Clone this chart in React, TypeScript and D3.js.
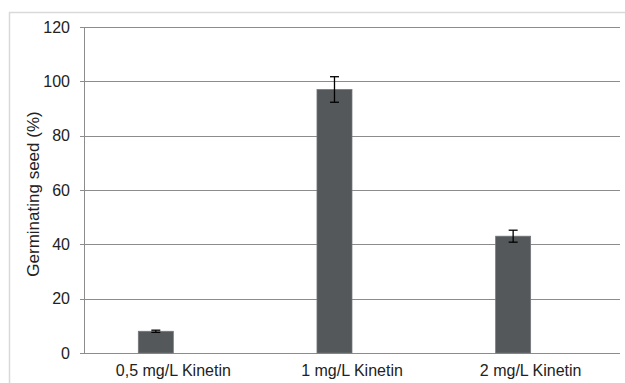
import React from "react";
import * as d3 from "d3";

// data
const categories = ["0,5 mg/L Kinetin", "1 mg/L Kinetin", "2 mg/L Kinetin"];
const germination = [8, 97, 43];
const errors = [0.4, 4.7, 2.2];
const yTicks = [0, 20, 40, 60, 80, 100, 120];

const size = {
  width: 625,
  height: 383,
  left: 84,
  right: 620,
  top: 27,
  bottom: 353,
};

const font = "'Liberation Sans', Arial, sans-serif";

const App = () => {
  const x = d3
    .scaleBand()
    .domain(categories)
    .range([size.left, size.right])
    .paddingInner(0)
    .paddingOuter(0);

  // excel style cluster: the visible series sits in the left slot
  const slot = d3
    .scaleBand()
    .domain(["kinetin", "empty"])
    .range([0, x.bandwidth()])
    .paddingInner(0)
    .paddingOuter(1.55);

  const y = d3.scaleLinear().domain([0, 120]).range([size.bottom, size.top]);

  const capHalf = 4.5;

  return (
    <svg
      width={size.width}
      height={size.height}
      style={{ position: "absolute", left: 0, top: 0, background: "#fff" }}
    >
      {/* outer chart frame */}
      <rect
        x={9.5}
        y={12.5}
        width={700}
        height={500}
        fill="none"
        stroke="#d9d9d9"
        strokeWidth={1.5}
      />

      {/* gridlines + ticks */}
      {yTicks.map((t) => (
        <g key={t}>
          <line
            x1={size.left - 4}
            x2={size.right}
            y1={Math.round(y(t)) + 0.5}
            y2={Math.round(y(t)) + 0.5}
            stroke="#8c8c8c"
            strokeWidth={1}
          />
          <text
            x={70}
            y={y(t)}
            dy="0.36em"
            textAnchor="end"
            fontFamily={font}
            fontSize={16}
            fill="#222"
          >
            {t}
          </text>
        </g>
      ))}

      {/* y axis */}
      <line
        x1={size.left + 0.5}
        x2={size.left + 0.5}
        y1={size.top}
        y2={size.bottom}
        stroke="#8c8c8c"
        strokeWidth={1}
      />

      {/* bars */}
      {categories.map((c, i) => {
        const bx = x(c) + slot("kinetin");
        const bw = slot.bandwidth();
        const cx = bx + bw / 2;
        return (
          <g key={c}>
            <rect
              x={bx}
              y={y(germination[i])}
              width={bw}
              height={y(0) - y(germination[i])}
              fill="#54585b"
              stroke="#74777a"
              strokeWidth={0.75}
            />
            <g stroke="#000" strokeWidth={1.3}>
              <line
                x1={cx}
                x2={cx}
                y1={y(germination[i] + errors[i])}
                y2={y(germination[i] - errors[i])}
              />
              <line
                x1={cx - capHalf}
                x2={cx + capHalf}
                y1={y(germination[i] + errors[i])}
                y2={y(germination[i] + errors[i])}
              />
              <line
                x1={cx - capHalf}
                x2={cx + capHalf}
                y1={y(germination[i] - errors[i])}
                y2={y(germination[i] - errors[i])}
              />
            </g>
          </g>
        );
      })}

      {/* category labels */}
      {categories.map((c) => (
        <text
          key={c}
          x={x(c) + x.bandwidth() / 2}
          y={376}
          textAnchor="middle"
          fontFamily={font}
          fontSize={16}
          fill="#222"
        >
          {c}
        </text>
      ))}

      {/* y title */}
      <text
        transform={`translate(39 ${(size.top + size.bottom) / 2 + 4}) rotate(-90)`}
        textAnchor="middle"
        fontFamily={font}
        fontSize={17}
        fill="#222"
      >
        Germinating seed (%)
      </text>
    </svg>
  );
};

export default App;
